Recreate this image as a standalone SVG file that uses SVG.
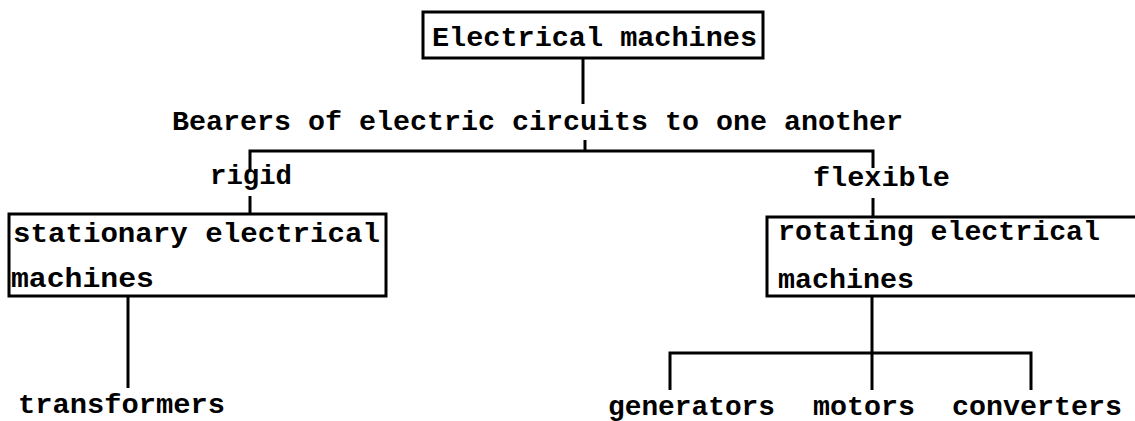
<svg xmlns="http://www.w3.org/2000/svg" width="1135" height="421" viewBox="0 0 1135 421">
<style>
text{font-family:"Liberation Mono","DejaVu Sans Mono",monospace;font-weight:bold;font-size:27px;fill:#000}
.box{fill:#fff;stroke:#000;stroke-width:3}
.ln{stroke:#000;stroke-width:3;fill:none}
</style>
<rect width="1135" height="421" fill="#fff"/>
<g id="connectors">
<line class="ln" x1="583" y1="58" x2="583" y2="104"/>
<line class="ln" x1="585" y1="140" x2="585" y2="151"/>
<polyline class="ln" points="250,170 250,151 873,151 873,168"/>
<line class="ln" x1="250" y1="196" x2="250" y2="214"/>
<line class="ln" x1="873" y1="198" x2="873" y2="217"/>
<line class="ln" x1="128" y1="296" x2="128" y2="388"/>
<line class="ln" x1="872" y1="296" x2="872" y2="390"/>
<polyline class="ln" points="670,390 670,353 1031,353 1031,390"/>
</g>
<g id="n-electrical-machines">
<rect class="box" x="423" y="12" width="340" height="46"/>
<text x="432" y="46" textLength="325" lengthAdjust="spacingAndGlyphs">Electrical machines</text>
</g>
<g id="n-bearers">
<text x="172" y="130" textLength="731" lengthAdjust="spacingAndGlyphs">Bearers of electric circuits to one another</text>
</g>
<g id="n-rigid">
<text x="210" y="184" textLength="82" lengthAdjust="spacingAndGlyphs">rigid</text>
</g>
<g id="n-flexible">
<text x="813" y="186" textLength="137" lengthAdjust="spacingAndGlyphs">flexible</text>
</g>
<g id="n-stationary">
<rect class="box" x="9" y="214" width="377" height="82"/>
<text x="13" y="242" textLength="367" lengthAdjust="spacingAndGlyphs">stationary electrical</text>
<text x="11" y="287" textLength="143" lengthAdjust="spacingAndGlyphs">machines</text>
</g>
<g id="n-rotating">
<rect class="box" x="767" y="217" width="380" height="79"/>
<text x="778" y="240" textLength="322" lengthAdjust="spacingAndGlyphs">rotating electrical</text>
<text x="778" y="288" textLength="136" lengthAdjust="spacingAndGlyphs">machines</text>
</g>
<g id="n-transformers">
<text x="18" y="413" textLength="207" lengthAdjust="spacingAndGlyphs">transformers</text>
</g>
<g id="n-generators">
<text x="608" y="415" textLength="167" lengthAdjust="spacingAndGlyphs">generators</text>
</g>
<g id="n-motors">
<text x="813" y="415" textLength="102" lengthAdjust="spacingAndGlyphs">motors</text>
</g>
<g id="n-converters">
<text x="952" y="415" textLength="170" lengthAdjust="spacingAndGlyphs">converters</text>
</g>
</svg>
